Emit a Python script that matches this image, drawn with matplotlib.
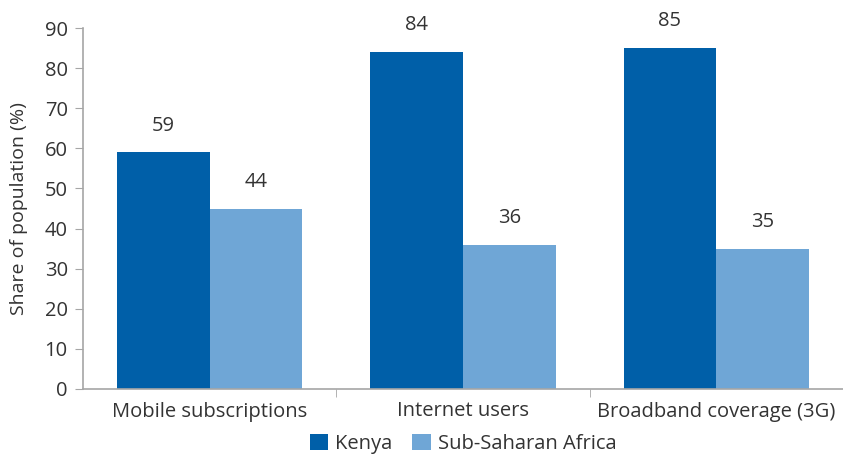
import numpy as np
import matplotlib
matplotlib.use('Agg')
import matplotlib.pyplot as plt

plt.rcParams['font.family'] = ['Open Sans', 'DejaVu Sans']

categories = ['Mobile subscriptions', 'Internet users', 'Broadband coverage (3G)']
kenya      = [59, 84, 85]
ssa        = [45, 36, 35]
kenya_lbl  = ['59', '84', '85']
ssa_lbl    = ['44', '36', '35']

C_KEN = '#005fa8'
C_SSA = '#6fa6d6'
TXT   = '#333333'
AXC   = '#a6a6a6'
FS    = 14.5

fig = plt.figure(figsize=(8.43, 4.55), dpi=100)
ax = fig.add_axes([83 / 843, 1 - 389 / 455, (843 - 83) / 843, (389 - 28) / 455])

x = np.arange(len(categories))
w = 0.366
b1 = ax.bar(x - w / 2, kenya, w, color=C_KEN, label='Kenya')
b2 = ax.bar(x + w / 2, ssa, w, color=C_SSA, label='Sub-Saharan Africa')

for bars, lbls in ((b1, kenya_lbl), (b2, ssa_lbl)):
    for r, t in zip(bars, lbls):
        ax.annotate(t, (r.get_x() + r.get_width() / 2, r.get_height()),
                    xytext=(0, 12), textcoords='offset points',
                    ha='center', va='bottom', fontsize=FS, color=TXT)

ax.set_xlim(-0.5, 2.5)
ax.set_ylim(0, 90)
ax.set_yticks(range(0, 91, 10))
ax.set_xticks(x)
ax.set_xticklabels(categories)
ax.set_xticks([0.5, 1.5], minor=True)
ax.tick_params(axis='x', which='major', length=0, pad=9, labelsize=FS, labelcolor=TXT)
ax.tick_params(axis='x', which='minor', length=6, color=AXC, direction='out')
ax.tick_params(axis='y', length=6, color=AXC, labelsize=FS, labelcolor=TXT, pad=5)
ax.set_ylabel('Share of population (%)', fontsize=14, color=TXT)
ax.yaxis.set_label_coords(-0.072, 0.5)

for s in ('top', 'right'):
    ax.spines[s].set_visible(False)
for s in ('left', 'bottom'):
    ax.spines[s].set_color(AXC)
    ax.spines[s].set_linewidth(1.2)

ax.legend(loc='center', bbox_to_anchor=(0.5, -0.152), ncol=2, frameon=False,
          fontsize=FS, handlelength=0.9, handleheight=0.9, handletextpad=0.35,
          columnspacing=1.0, labelcolor=TXT, borderpad=0)

fig.savefig('out.png', dpi=100)
